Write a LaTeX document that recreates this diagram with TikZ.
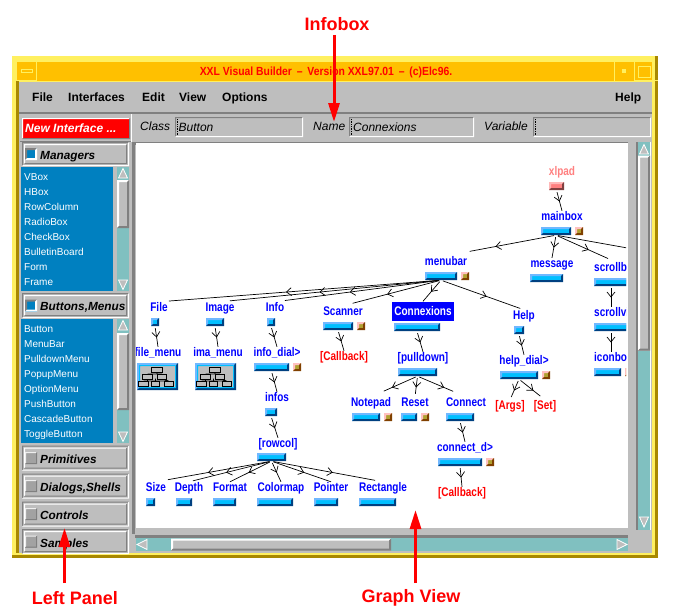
\documentclass[tikz,border=0pt]{standalone}
\usepackage{fontspec}
\setmainfont{Liberation Sans}
\newfontfamily\graphfont[FakeStretch=0.8]{Liberation Sans}
\newfontfamily\titlefont[FakeStretch=0.88]{Liberation Sans}
\usetikzlibrary{arrows.meta,calc,decorations.markings}

\definecolor{guigray}{HTML}{BEBEBE}
\definecolor{guidark}{HTML}{808080}
\definecolor{listblue}{HTML}{0080C0}
\definecolor{troughteal}{HTML}{80C0C0}
\definecolor{barblue}{HTML}{00BFFF}
\definecolor{barlight}{HTML}{70B8FF}
\definecolor{bardark}{HTML}{004080}
\definecolor{titleorange}{HTML}{FFC000}
\definecolor{frameyellow}{HTML}{FFF060}
\definecolor{framegold}{HTML}{A88800}
\definecolor{rootpink}{HTML}{FF8080}
\definecolor{rootlight}{HTML}{FFB8B8}
\definecolor{rootdark}{HTML}{804040}
\definecolor{tagfill}{HTML}{B0A030}
\definecolor{taglight}{HTML}{FFC0C0}
\definecolor{tagdark}{HTML}{804000}

% light edge, dark edge, inset, inset + width
\newcommand{\bevelpic}[4]{%
  \fill[#1] ([shift={(#3,-#3)}]path picture bounding box.north west)
    -- ([shift={(-#3,-#3)}]path picture bounding box.north east)
    -- ([shift={(-#4,-#4)}]path picture bounding box.north east)
    -- ([shift={(#4,-#4)}]path picture bounding box.north west)
    -- ([shift={(#4,#4)}]path picture bounding box.south west)
    -- ([shift={(#3,#3)}]path picture bounding box.south west) -- cycle;
  \fill[#2] ([shift={(-#3,#3)}]path picture bounding box.south east)
    -- ([shift={(-#3,-#3)}]path picture bounding box.north east)
    -- ([shift={(-#4,-#4)}]path picture bounding box.north east)
    -- ([shift={(-#4,#4)}]path picture bounding box.south east)
    -- ([shift={(#4,#4)}]path picture bounding box.south west)
    -- ([shift={(#3,#3)}]path picture bounding box.south west) -- cycle;
}

\begin{document}
\begin{tikzpicture}[
    x=1pt, y=-1pt,
    box/.style n args={2}{rectangle, inner sep=0pt, minimum width=#1pt, minimum height=#2pt},
    widget bar/.style={box={#1}{8}, fill=barblue,
        path picture={\bevelpic{barlight}{bardark}{0pt}{2pt}}},
    root bar/.style={box={#1}{8}, fill=rootpink,
        path picture={\bevelpic{rootlight}{rootdark}{0pt}{2pt}}},
    tag box/.style={box={8}{8}, fill=tagfill,
        path picture={\bevelpic{taglight}{tagdark}{0pt}{2pt}}},
    icon box/.style={box={41}{27}, fill=guigray,
        path picture={\bevelpic{barlight}{bardark}{0pt}{2pt}\bevelpic{barblue}{barblue}{2pt}{3pt}}},
    etched button/.style={box={107}{#1}, fill=guigray,
        path picture={\bevelpic{guidark}{white}{0pt}{1pt}\bevelpic{white}{guidark}{2pt}{3pt}}},
    red button/.style={box={108}{21}, fill=red,
        path picture={\bevelpic{white}{guidark}{0pt}{1pt}}},
    check on/.style={box={12}{12}, fill=listblue,
        path picture={\bevelpic{guidark}{white}{0pt}{2pt}}},
    check off/.style={box={12}{12}, fill=guidark!45!guigray,
        path picture={\bevelpic{white!75!guigray}{guidark}{0pt}{1pt}}},
    info field/.style={box={#1}{20}, fill=guigray,
        path picture={\bevelpic{guidark}{white}{0pt}{1pt}}},
    thumb/.style n args={2}{box={#1}{#2}, fill=guigray,
        path picture={\bevelpic{white}{guidark}{0pt}{2pt}}},
    arrow tri/.style={fill=guigray, draw=white, line width=0.8pt},
    section text/.style={anchor=west, inner sep=0pt, text height=9pt, text depth=0.5pt,
        font=\bfseries\itshape\fontsize{11.8}{13}\selectfont},
    list item/.style={anchor=west, inner sep=0pt, text=white, text height=7.5pt, text depth=0.5pt,
        font=\fontsize{10}{12}\selectfont},
    menu item/.style={anchor=west, inner sep=0pt, text height=9pt, text depth=0.5pt,
        font=\bfseries\fontsize{12}{14}\selectfont},
    info text/.style={anchor=west, inner sep=0pt, text height=9pt, text depth=0.5pt,
        font=\itshape\fontsize{12}{14}\selectfont},
    graph label/.style={inner sep=0pt, text height=9pt, text depth=1pt, text=blue,
        font=\graphfont\bfseries\fontsize{12.5}{13}\selectfont},
    selected label/.style={graph label, fill=blue, text=white, minimum width=62pt, minimum height=19pt},
    root label/.style={graph label, text=rootpink},
    callback label/.style={graph label, text=red},
    link/.style={line width=0.7pt, shorten <=2pt, postaction={decorate},
        decoration={markings, mark=at position 0.55 with {\arrow{Straight Barb[length=5pt,width=8pt]}}}},
    callout text/.style={inner sep=0pt, text=red, font=\bfseries\fontsize{18}{20}\selectfont},
    callout arrow/.style={line width=3pt, color=red, -{Triangle[length=19pt,width=11pt]}},
    pics/orgtree/.style={code={
        \draw[line width=0.8pt] (-0.5,-5) -- (-0.5,-2.5) (-10,-2.5) -- (4.5,-2.5)
            (-10,2) -- (-10,4.5) (-14,4.5) -- (11,4.5) (11,4.5) -- (4.5,2) (-2,4.5) -- (-2,2);
        \draw[line width=0.8pt, fill=guigray] (-6,-9) rectangle (5,-4.5);
        \draw[line width=0.8pt, fill=guigray] (-15,-2) rectangle (-5,2.5);
        \draw[line width=0.8pt, fill=guigray] (0,-2) rectangle (9,2.5);
        \draw[line width=0.8pt, fill=guigray] (-19,5) rectangle (-9,9.5);
        \draw[line width=0.8pt, fill=guigray] (-6,5) rectangle (2,9.5);
        \draw[line width=0.8pt, fill=guigray] (7,5) rectangle (16,9.5);
    }},
]
\useasboundingbox (0,0) rectangle (675,616);

% Window frame
\fill[framegold] (12,56) rectangle (658,558);
\fill[frameyellow] (12,56) rectangle (655,555);
\fill[titleorange] (17,62) rectangle (652,81);
\fill[framegold] (16,81) rectangle (19,553);
\fill[guigray] (19,82) rectangle (652,553);

% Title bar
\node[inner sep=0pt, text=red, font=\titlefont\bfseries\fontsize{11.8}{13}\selectfont] (titletext) at (326,72)
    {XXL Visual Builder \,–\, Version XXL97.01 \,–\, (c)Elc96.};
\draw[frameyellow] (36.5,56) -- (36.5,81) (12,80.5) -- (36.5,80.5);
\draw[frameyellow] (614.5,62) -- (614.5,81) (634.5,56) -- (634.5,81) (634.5,80.5) -- (658,80.5);
\fill[frameyellow] (21,69) rectangle (33,73);
\fill[titleorange] (22,70) rectangle (32,72);
\fill[frameyellow] (622,69) rectangle (626,73);
\draw[frameyellow] (638.5,66.5) rectangle (650,77);

% Menu bar
\fill[guidark] (19,112) rectangle (652,114);
\node[menu item] (menufile) at (32,97) {File};
\node[menu item] (menuinterfaces) at (68,97) {Interfaces};
\node[menu item] (menuedit) at (142,97) {Edit};
\node[menu item] (menuview) at (179,97) {View};
\node[menu item] (menuoptions) at (222,97) {Options};
\node[menu item] (menuhelp) at (615,97) {Help};

% Infobox
\draw[white] (131.5,114) -- (131.5,142);
\node[info text] (classlbl) at (140,126) {Class};
\node[info field={128}] (classfield) at (239,127) {};
\draw[densely dotted, line width=0.7pt] (177,119) -- (177,135);
\node[info text] (classval) at (178.5,127) {Button};
\node[info text] (namelbl) at (313,126) {Name};
\node[info field={125}] (namefield) at (411.5,127) {};
\draw[densely dotted, line width=0.7pt] (351,119) -- (351,135);
\node[info text] (nameval) at (353,127) {Connexions};
\node[info text] (varlbl) at (484,126) {Variable};
\node[info field={118}] (varfield) at (592,127) {};
\draw[densely dotted, line width=0.7pt] (535,119) -- (535,135);

% Left panel
\node[red button] (newbtn) at (76,128.5) {};
\node[section text, text=white, font=\bfseries\itshape\fontsize{12}{14}\selectfont] (newtxt) at (25,128.5) {New Interface ...};
\draw[guidark] (20,141) -- (131,141);

\node[etched button=24] (managersbtn) at (75.5,154) {};
\node[check on] (managerschk) at (31,154) {};
\node[section text] (managerstxt) at (40,155) {Managers};

\fill[listblue] (21,167) rectangle (113,291);
\node[list item] (vbox) at (24,177) {VBox};
\node[list item] (hbox) at (24,192) {HBox};
\node[list item] (rowcolumn) at (24,207) {RowColumn};
\node[list item] (radiobox) at (24,222) {RadioBox};
\node[list item] (checkbox) at (24,237) {CheckBox};
\node[list item] (bulletin) at (24,252) {BulletinBoard};
\node[list item] (form) at (24,267) {Form};
\node[list item] (frame) at (24,282) {Frame};

\fill[troughteal] (117,167) rectangle (129,291);
\filldraw[arrow tri] (123,168.5) -- (127.5,178) -- (118.5,178) -- cycle;
\node[thumb={12}{48}] (managersthumb) at (123,204) {};
\filldraw[arrow tri] (123,289.5) -- (127.5,280) -- (118.5,280) -- cycle;

\node[etched button=25] (buttonsbtn) at (75.5,305.5) {};
\node[check on] (buttonschk) at (31,305.5) {};
\node[section text] (buttonstxt) at (40,306.5) {Buttons,Menus};

\fill[listblue] (21,319) rectangle (113,443);
\node[list item] (button) at (24,329) {Button};
\node[list item] (menubaritem) at (24,344) {MenuBar};
\node[list item] (pulldownmenu) at (24,359) {PulldownMenu};
\node[list item] (popupmenu) at (24,374) {PopupMenu};
\node[list item] (optionmenu) at (24,389) {OptionMenu};
\node[list item] (pushbutton) at (24,404) {PushButton};
\node[list item] (cascade) at (24,419) {CascadeButton};
\node[list item] (toggle) at (24,434) {ToggleButton};

\fill[troughteal] (117,319) rectangle (129,443);
\filldraw[arrow tri] (123,320.5) -- (127.5,330) -- (118.5,330) -- cycle;
\node[thumb={12}{77}] (buttonsthumb) at (123,371.5) {};
\filldraw[arrow tri] (123,441.5) -- (127.5,432) -- (118.5,432) -- cycle;

\node[etched button=25] (primbtn) at (75.5,458) {};
\node[check off] (primchk) at (31,458) {};
\node[section text] (primtxt) at (40,459) {Primitives};
\node[etched button=25] (dialogsbtn) at (75.5,486) {};
\node[check off] (dialogschk) at (31,486) {};
\node[section text] (dialogstxt) at (40,487) {Dialogs,Shells};
\node[etched button=25] (controlsbtn) at (75.5,514) {};
\node[check off] (controlschk) at (31,514) {};
\node[section text] (controlstxt) at (40,515) {Controls};
\node[etched button=25] (samplesbtn) at (75.5,541.5) {};
\node[check off] (sampleschk) at (31,541.5) {};
\node[section text] (samplestxt) at (40,543) {Samples};

% Scrollbars
\fill[guidark] (132,142) rectangle (628,145);
\fill[guidark] (132,142) rectangle (135,534);
\fill[white] (136,143) rectangle (628,528);
\fill[guidark] (636,142) rectangle (638,530);
\fill[troughteal] (638,142) rectangle (650,530);
\fill[white] (650,142) rectangle (651,530);
\filldraw[arrow tri] (644,144.5) -- (648.5,154) -- (639.5,154) -- cycle;
\node[thumb={12}{195}] (vthumb) at (644,253) {};
\filldraw[arrow tri] (644,527) -- (648.5,517) -- (639.5,517) -- cycle;
\fill[guidark] (135,535) rectangle (628,538);
\fill[troughteal] (136,538) rectangle (628,551);
\filldraw[arrow tri] (137,544.5) -- (147,539.5) -- (147,549.5) -- cycle;
\node[thumb={220}{12}] (hthumb) at (281,544.5) {};
\filldraw[arrow tri] (627,544.5) -- (617,539.5) -- (617,549.5) -- cycle;

% Graph view
\begin{scope}
\clip (136,143) rectangle (626,528);

% Graph nodes
\node[root label] (xlpadlbl) at (562,171) {xlpad};
\node[root bar=15] (xlpadbar) at (556.5,186) {};
\node[graph label] (mainboxlbl) at (562,216) {mainbox};
\node[widget bar=30] (mainboxbar) at (556,231) {};
\node[tag box] (mainboxtag) at (579,231) {};

\node[graph label] (menubarlbl) at (446,261) {menubar};
\node[widget bar=32] (menubarbar) at (441,276) {};
\node[tag box] (menubartag) at (465,276) {};
\node[graph label] (messagelbl) at (552,263) {message};
\node[widget bar=33] (messagebar) at (546.5,278) {};
\node[graph label, anchor=west] (scrollblbl) at (594,267) {scrollbar};
\node[widget bar=34] (scrollbbar) at (611,282) {};
\node[graph label, anchor=west] (scrollvlbl) at (594,312) {scrollview};
\node[widget bar=34] (scrollvbar) at (611,327) {};
\node[graph label, anchor=west] (iconbolbl) at (594,357) {iconbox};
\node[widget bar=27] (iconbobar) at (607.5,372) {};
\node[tag box] (iconbotag) at (629,372) {};

\node[graph label] (filelbl) at (159,307) {File};
\node[widget bar=8] (filebar) at (155,322) {};
\node[graph label] (filemenulbl) at (158,352) {file\_menu};
\node[icon box] (filemenuicon) at (157.5,376.5) {};
\pic at (filemenuicon) {orgtree};

\node[graph label] (imagelbl) at (220,307) {Image};
\node[widget bar=18] (imagebar) at (215,322) {};
\node[graph label] (imamenulbl) at (218,352) {ima\_menu};
\node[icon box] (imamenuicon) at (215.5,376.5) {};
\pic at (imamenuicon) {orgtree};

\node[graph label] (infolbl) at (275,307) {Info};
\node[widget bar=8] (infobar) at (271,322) {};
\node[graph label] (infodiallbl) at (277,352) {info\_dial>};
\node[widget bar=35] (infodialbar) at (271.5,367) {};
\node[tag box] (infodialtag) at (297,367) {};
\node[graph label] (infoslbl) at (277,397) {infos};
\node[widget bar=12] (infosbar) at (271,412) {};
\node[graph label] (rowcollbl) at (278,443) {[rowcol]};
\node[widget bar=29] (rowcolbar) at (271.5,457) {};

\node[graph label] (sizelbl) at (156,487) {Size};
\node[widget bar=9] (sizebar) at (150.5,502) {};
\node[graph label] (depthlbl) at (189,487) {Depth};
\node[widget bar=16] (depthbar) at (184,502) {};
\node[graph label] (formatlbl) at (230,487) {Format};
\node[widget bar=23] (formatbar) at (224.5,502) {};
\node[graph label] (colormaplbl) at (281,487) {Colormap};
\node[widget bar=36] (colormapbar) at (275,502) {};
\node[graph label] (pointerlbl) at (331,487) {Pointer};
\node[widget bar=24] (pointerbar) at (326,502) {};
\node[graph label] (rectanglelbl) at (383,487) {Rectangle};
\node[widget bar=37] (rectanglebar) at (377.5,502) {};

\node[graph label] (scannerlbl) at (343,311) {Scanner};
\node[widget bar=30] (scannerbar) at (338,326) {};
\node[tag box] (scannertag) at (361,326) {};
\node[callback label] (scannercb) at (344,356) {[Callback]};

\node[selected label] (connexionslbl) at (423,311) {Connexions};
\node[widget bar=46] (connexionsbar) at (417,327) {};
\node[graph label] (pulldownlbl) at (423,357) {[pulldown]};
\node[widget bar=39] (pulldownbar) at (417.5,372) {};
\node[graph label] (notepadlbl) at (371,402) {Notepad};
\node[widget bar=28] (notepadbar) at (366,417) {};
\node[tag box] (notepadtag) at (388,417) {};
\node[graph label] (resetlbl) at (415,402) {Reset};
\node[widget bar=16] (resetbar) at (409,417) {};
\node[tag box] (resettag) at (425,417) {};
\node[graph label] (connectlbl) at (466,402) {Connect};
\node[widget bar=28] (connectbar) at (460,417) {};
\node[graph label] (connectdlbl) at (465,447) {connect\_d>};
\node[widget bar=44] (connectdbar) at (460,462) {};
\node[tag box] (connectdtag) at (490,462) {};
\node[callback label] (connectcb) at (462,492) {[Callback]};

\node[graph label] (helplbl) at (524,315) {Help};
\node[widget bar=10] (helpbar) at (519,330) {};
\node[graph label] (helpdiallbl) at (524,360) {help\_dial>};
\node[widget bar=38] (helpdialbar) at (519,375) {};
\node[tag box] (helpdialtag) at (546,375) {};
\node[callback label] (argslbl) at (510,405) {[Args]};
\node[callback label] (setlbl) at (545,405) {[Set]};

% Links
\coordinate (offright) at (700,261);
\draw[link] (xlpadbar.south) -- (mainboxlbl.north);
\draw[link, shorten >=24pt] (mainboxbar.south) -- (menubarlbl.north);
\draw[link] (mainboxbar.south) -- (messagelbl.north);
\draw[link, shorten >=8pt] (mainboxbar.south) -- (scrollblbl.north);
\draw[link] (mainboxbar.south) -- (offright);
\draw[link, shorten >=10pt] (menubarbar.south) -- (filelbl.north);
\draw[link, shorten >=10pt] (menubarbar.south) -- (imagelbl.north);
\draw[link, shorten >=10pt] (menubarbar.south) -- (infolbl.north);
\draw[link, shorten >=10pt] (menubarbar.south) -- (scannerlbl.north);
\draw[link] (menubarbar.south) -- (connexionslbl.north);
\draw[link, shorten >=4pt] (menubarbar.south) -- (helplbl.north);
\draw[link] (filebar.south) -- (filemenulbl.north);
\draw[link] (imagebar.south) -- (imamenulbl.north);
\draw[link] (infobar.south) -- (infodiallbl.north);
\draw[link] (infodialbar.south) -- (infoslbl.north);
\draw[link] (infosbar.south) -- (rowcollbl.north);
\draw[link, shorten >=12pt] (rowcolbar.south) -- (sizelbl.north);
\draw[link, shorten >=4pt] (rowcolbar.south) -- (depthlbl.north);
\draw[link] (rowcolbar.south) -- (formatlbl.north);
\draw[link] (rowcolbar.south) -- (colormaplbl.north);
\draw[link] (rowcolbar.south) -- (pointerlbl.north);
\draw[link, shorten >=8pt] (rowcolbar.south) -- (rectanglelbl.north);
\draw[link] (scannerbar.south) -- (scannercb.north);
\draw[link] (connexionsbar.south) -- (pulldownlbl.north);
\draw[link, shorten >=14pt] (pulldownbar.south) -- (notepadlbl.north);
\draw[link, shorten >=3pt] (pulldownbar.south) -- (resetlbl.north);
\draw[link, shorten >=14pt] (pulldownbar.south) -- (connectlbl.north);
\draw[link] (connectbar.south) -- (connectdlbl.north);
\draw[link] (connectdbar.south) -- (connectcb.north);
\draw[link] (helpbar.south) -- (helpdiallbl.north);
\draw[link, shorten >=3pt] (helpdialbar.south) -- (argslbl.north);
\draw[link, shorten >=6pt] (helpdialbar.south) -- (setlbl.north);
\draw[link] (scrollbbar.south) -- (scrollvlbl.north -| scrollvbar.north);
\draw[link] (scrollvbar.south) -- (iconbolbl.north -| scrollvbar.north);
\end{scope}

% Callouts
\node[callout text] (infoboxlbl) at (337,24) {Infobox};
\coordinate (infoboxtip) at (334,122);
\draw[callout arrow, shorten <=4pt] (infoboxlbl.south -| infoboxtip) -- (infoboxtip);
\node[callout text] (leftpanellbl) at (75,598) {Left Panel};
\coordinate (leftpaneltip) at (64.5,528);
\draw[callout arrow] (64.5,583) -- (leftpaneltip);
\node[callout text] (graphviewlbl) at (411,598) {Graph View};
\coordinate (graphviewtip) at (415.5,510);
\draw[callout arrow] (415.5,583) -- (graphviewtip);

\end{tikzpicture}
\end{document}
